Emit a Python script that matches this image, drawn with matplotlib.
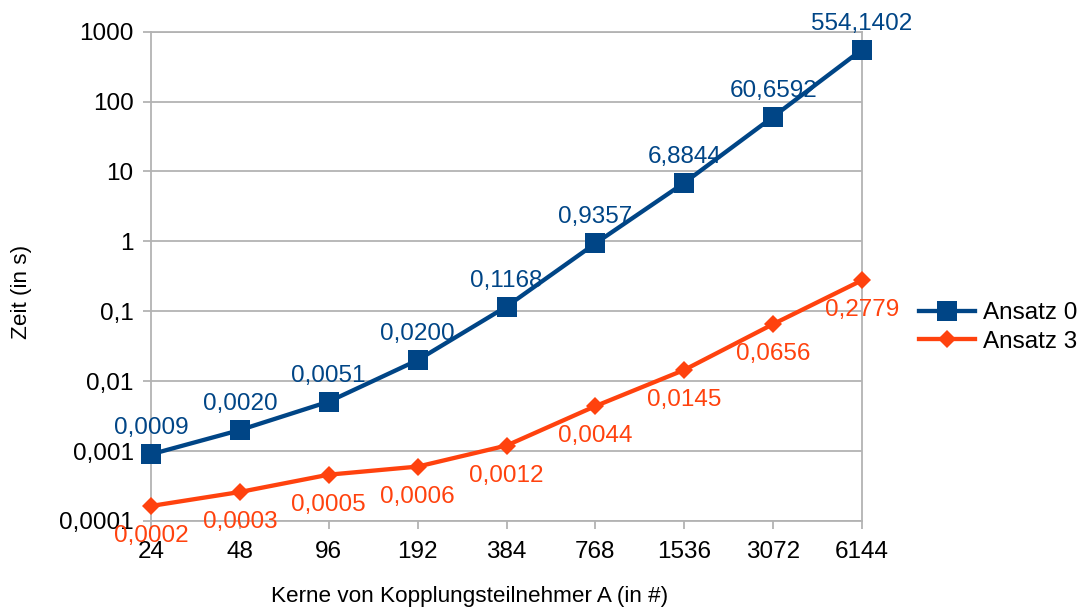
import matplotlib
matplotlib.use("Agg")
import matplotlib.pyplot as plt
from matplotlib.ticker import FixedLocator, FixedFormatter, NullLocator

plt.rcParams['font.family'] = ['Liberation Sans', 'DejaVu Sans']

# Data
cores = ["24", "48", "96", "192", "384", "768", "1536", "3072", "6144"]
ansatz0 = [0.0009, 0.0020, 0.0051, 0.0200, 0.1168, 0.9357, 6.8844, 60.6592, 554.1402]
ansatz3 = [0.000164, 0.00026, 0.00046, 0.0006, 0.0012, 0.0044, 0.0145, 0.0656, 0.2779]
series_names = ["Ansatz 0", "Ansatz 3"]
y_ticks = [0.0001, 0.001, 0.01, 0.1, 1, 10, 100, 1000]
y_tick_labels = ["0,0001", "0,001", "0,01", "0,1", "1", "10", "100", "1000"]

BLUE = "#004586"
ORANGE = "#ff420e"
GRID = "#b3b3b3"
FS = 17.5

W, H = 1086, 607
fig = plt.figure(figsize=(W / 100, H / 100), dpi=100)
ax = fig.add_axes([151 / W, 1 - 521 / H, (862 - 151) / W, (521 - 31.7) / H])

x = list(range(len(cores)))

ax.plot(x, ansatz0, color=BLUE, lw=3.1, marker="s", ms=13.7, mew=0,
        label=series_names[0], zorder=3, clip_on=False)
ax.plot(x, ansatz3, color=ORANGE, lw=3.1, marker="D", ms=9.3, mew=0,
        label=series_names[1], zorder=3, clip_on=False)

def fmt(v):
    return f"{v:.4f}".replace(".", ",")

for xi, v in zip(x, ansatz0):
    ax.annotate(fmt(v), (xi, v), xytext=(0, 14.4), textcoords="offset points",
                ha="center", va="baseline", color=BLUE, fontsize=FS, zorder=4,
                annotation_clip=False)
for xi, v in zip(x, ansatz3):
    ax.annotate(fmt(v), (xi, v), xytext=(0, -26), textcoords="offset points",
                ha="center", va="baseline", color=ORANGE, fontsize=FS, zorder=4,
                annotation_clip=False)

ax.set_yscale("log")
ax.set_ylim(1e-4, 1e3)
ax.set_xlim(0, len(cores) - 1)
ax.yaxis.set_major_locator(FixedLocator(y_ticks))
ax.yaxis.set_major_formatter(FixedFormatter(y_tick_labels))
ax.yaxis.set_minor_locator(NullLocator())
ax.set_xticks(x)
ax.set_xticklabels(cores)

ax.grid(axis="y", color=GRID, lw=1.3)
ax.set_axisbelow(True)
for side in ["left", "right", "bottom", "top"]:
    ax.spines[side].set_color(GRID)
    ax.spines[side].set_linewidth(1.3)
ax.tick_params(axis="both", colors=GRID, labelcolor="black", labelsize=FS,
               length=6, width=1.3)
ax.tick_params(axis="x", pad=8.5)
ax.tick_params(axis="y", pad=6.5)

fig.text(469.7 / W, 1 - 601.7 / H, "Kerne von Kopplungsteilnehmer A (in #)",
         ha="center", va="baseline", fontsize=16.2)
fig.text(27.3 / W, 1 - 291.7 / H, "Zeit (in s)", rotation=90,
         rotation_mode="anchor", ha="center", va="baseline", fontsize=16.2)

fig.legend(loc="center left", bbox_to_anchor=(919 / W, 1 - 327.5 / H),
           frameon=False, fontsize=FS, handlelength=2.3, handletextpad=0.34,
           labelspacing=0.25, borderpad=0, borderaxespad=0)

fig.savefig("out.png", dpi=100)
